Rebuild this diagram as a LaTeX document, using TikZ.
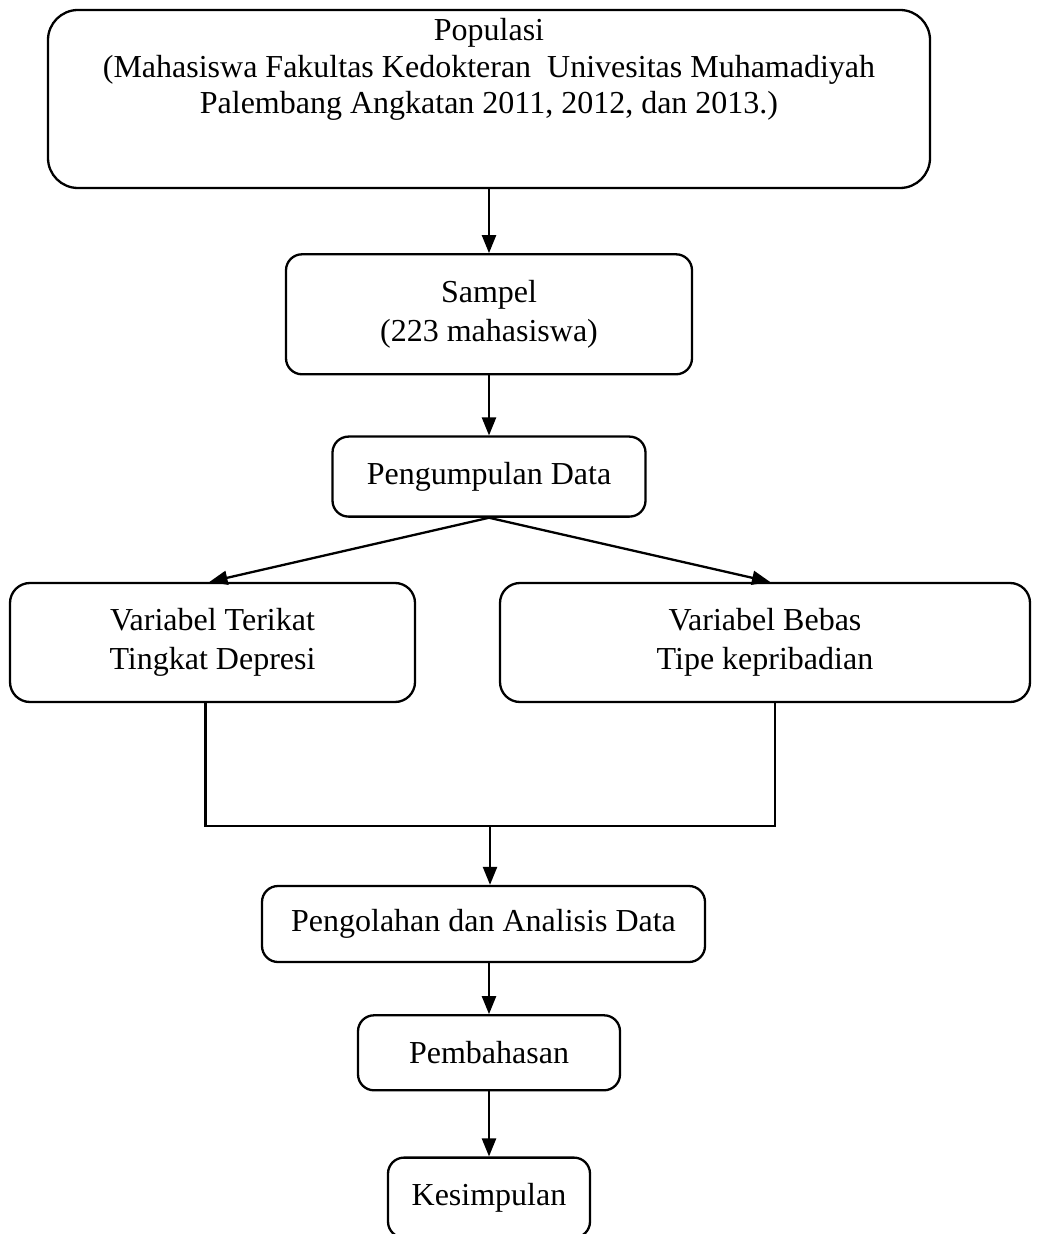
\documentclass[tikz,border=0pt]{standalone}
\usepackage{fontspec}
\setmainfont{Liberation Serif}
\usepackage{tikz}
\usetikzlibrary{arrows.meta, positioning}

\begin{document}
\begin{tikzpicture}[
            x=0.5pt, y=-0.5pt,                          % one unit = one pixel of the sketch
            -{Triangle[length=9pt,width=7pt]},           % make all edges directed
            line width=1.15pt,
            every node/.style={draw, rounded corners=8pt, align=center,
              inner sep=2pt, font=\fontsize{16pt}{19.5pt}\selectfont}  % style for all boxes
          ]
          \useasboundingbox (0,0) rectangle (1039,1234);

          \node (pop) [minimum width=441pt, minimum height=89pt, rounded corners=15pt,
                       text depth=33pt, font=\fontsize{16pt}{18.3pt}\selectfont] at (489,99)
            {Populasi\\(Mahasiswa Fakultas Kedokteran\ \ Univesitas Muhamadiyah\\Palembang Angkatan 2011, 2012, dan 2013.)};
          \node (smp) [below=32pt of pop, minimum width=203pt, minimum height=60pt] {Sampel\\(223 mahasiswa)};
          \node (kmp) [below=30pt of smp, minimum width=156.5pt, minimum height=40pt] {Pengumpulan Data};
          \node (vt) [minimum width=202.5pt, minimum height=59.5pt, rounded corners=10pt] at (212.5,642.5)
            {Variabel Terikat\\Tingkat Depresi};
          \node (vb) [minimum width=265pt, minimum height=59.5pt, rounded corners=10pt] at (765,642.5)
            {Variabel Bebas\\Tipe kepribadian};
          \node (olah) [minimum width=221.5pt, minimum height=38pt] at (483.5,924) {Pengolahan dan Analisis Data};
          \node (bhs) [below=25.5pt of olah.south -| kmp, anchor=north, minimum width=131pt, minimum height=37.5pt] {Pembahasan};
          \node (kes) [below=32.5pt of bhs, minimum width=101pt, minimum height=40pt] {Kesimpulan};

          \coordinate (join) at (490,826);

          \draw (pop) -- (smp);
          \draw (smp) -- (kmp);
          \draw (kmp.south) -- ([xshift=-1.5pt]vt.north);
          \draw (kmp.south) -- ([xshift=2.5pt]vb.north);
          \draw[-] ([xshift=-3.5pt]vt.south) |- (join) -| ([xshift=5pt]vb.south);
          \draw (join) -- (join |- olah.north);
          \draw (olah.south -| bhs) -- (bhs);
          \draw (bhs) -- (kes);
        \end{tikzpicture}
\end{document}
